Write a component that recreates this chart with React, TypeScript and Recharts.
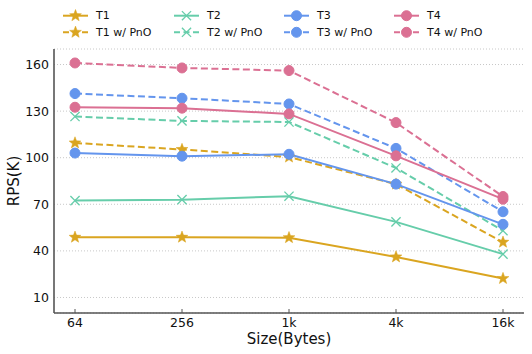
import React from 'react';
import { LineChart, Line, XAxis, YAxis, CartesianGrid } from 'recharts';

const sizes = ['64', '256', '1k', '4k', '16k'];
const t1 = [48.8, 48.8, 48.5, 36.1, 22.2];
const t1PnO = [109.5, 105.3, 100.4, 83.0, 45.6];
const t2 = [72.4, 73.0, 75.2, 58.7, 37.9];
const t2PnO = [126.5, 123.7, 123.0, 93.4, 53.0];
const t3 = [103.0, 101.0, 102.2, 83.0, 57.1];
const t3PnO = [141.3, 138.3, 134.6, 106.0, 65.2];
const t4 = [132.5, 131.9, 128.2, 101.2, 73.3];
const t4PnO = [161.0, 157.8, 156.1, 122.6, 75.0];
const yTicks = [10, 40, 70, 100, 130, 160];

const GOLD = '#DAA520';
const GREEN = '#66CDAA';
const BLUE = '#6495ED';
const PINK = '#DB7093';

type Marker = 'star' | 'x' | 'circle';

const seriesDefs: { key: string; name: string; values: number[]; color: string; marker: Marker; dashed: boolean }[] = [
  { key: 't1', name: 'T1', values: t1, color: GOLD, marker: 'star', dashed: false },
  { key: 't1p', name: 'T1 w/ PnO', values: t1PnO, color: GOLD, marker: 'star', dashed: true },
  { key: 't2', name: 'T2', values: t2, color: GREEN, marker: 'x', dashed: false },
  { key: 't2p', name: 'T2 w/ PnO', values: t2PnO, color: GREEN, marker: 'x', dashed: true },
  { key: 't3', name: 'T3', values: t3, color: BLUE, marker: 'circle', dashed: false },
  { key: 't3p', name: 'T3 w/ PnO', values: t3PnO, color: BLUE, marker: 'circle', dashed: true },
  { key: 't4', name: 'T4', values: t4, color: PINK, marker: 'circle', dashed: false },
  { key: 't4p', name: 'T4 w/ PnO', values: t4PnO, color: PINK, marker: 'circle', dashed: true },
];

const data = sizes.map((s, i) => {
  const row: Record<string, number | string> = { size: s };
  seriesDefs.forEach((d) => {
    row[d.key] = d.values[i];
  });
  return row;
});

function starPath(cx: number, cy: number, R: number, r: number) {
  let p = '';
  for (let i = 0; i < 10; i++) {
    const rad = i % 2 === 0 ? R : r;
    const a = -Math.PI / 2 + (i * Math.PI) / 5;
    p += (i === 0 ? 'M' : 'L') + (cx + rad * Math.cos(a)).toFixed(2) + ',' + (cy + rad * Math.sin(a)).toFixed(2);
  }
  return p + 'Z';
}

function MarkerShape({ cx, cy, marker, color }: { cx: number; cy: number; marker: Marker; color: string }) {
  if (cx == null || cy == null) return null;
  if (marker === 'circle') return <circle cx={cx} cy={cy} r={5} fill={color} stroke={color} strokeWidth={1} />;
  if (marker === 'star') return <path d={starPath(cx, cy, 6.2, 2.6)} fill={color} stroke={color} strokeWidth={0.5} />;
  const s = 4.6;
  return (
    <g stroke={color} strokeWidth={1.3} fill="none">
      <line x1={cx - s} y1={cy - s} x2={cx + s} y2={cy + s} />
      <line x1={cx - s} y1={cy + s} x2={cx + s} y2={cy - s} />
    </g>
  );
}

const legendCols = [63, 174, 284, 394];
const legendRows = [15.7, 32.3];

function LegendOverlay() {
  return (
    <svg width={532} height={45} style={{ position: 'absolute', left: 0, top: 0, pointerEvents: 'none' }}>
      {seriesDefs.map((d, i) => {
        const col = Math.floor(i / 2);
        const row = i % 2;
        const x = legendCols[col];
        const y = legendRows[row];
        return (
          <g key={d.key}>
            <line x1={x} y1={y} x2={x + 25} y2={y} stroke={d.color} strokeWidth={2} strokeDasharray={d.dashed ? '6 3.5' : undefined} />
            <MarkerShape cx={x + 12.5} cy={y} marker={d.marker} color={d.color} />
            <text x={x + 33} y={y} dominantBaseline="central" fontSize={11} fontFamily="DejaVu Sans" fill="#111">
              {d.name}
            </text>
          </g>
        );
      })}
    </svg>
  );
}

export default function App() {
  return (
    <div style={{ position: 'absolute', left: 0, top: 0, width: 532, height: 354, background: '#fff' }}>
      <LineChart width={532} height={354} data={data} margin={{ top: 49, right: 8, bottom: 0, left: 10 }}>
        <CartesianGrid horizontal vertical={false} stroke="#c8c8c8" strokeDasharray="1 2" strokeWidth={1} />
        <XAxis
          dataKey="size"
          height={41}
          padding={{ left: 21, right: 21 }}
          axisLine={{ stroke: '#555', strokeWidth: 1.6 }}
          tickLine={{ stroke: '#555' }}
          tickSize={-4}
          tickMargin={9}
          tick={{ fontSize: 12.5, fill: '#111', fontFamily: 'DejaVu Sans' }}
          label={(props: any) => {
            const vb = props.viewBox || {};
            const cx = (vb.x ?? 54) + (vb.width ?? 470) / 2;
            return (
              <text x={cx} y={339} textAnchor="middle" dominantBaseline="central" fontSize={15} fontFamily="DejaVu Sans" fill="#111">
                Size(Bytes)
              </text>
            );
          }}
        />
        <XAxis xAxisId="top" dataKey="size" orientation="top" height={0} tick={false} tickLine={false} axisLine={{ stroke: '#555', strokeWidth: 1.6 }} padding={{ left: 21, right: 21 }} />
        <YAxis
          width={44}
          domain={[0, 170]}
          ticks={yTicks}
          tickLine={false}
          tickSize={0}
          tickMargin={5}
          axisLine={{ stroke: '#555', strokeWidth: 1.6 }}
          tick={{ fontSize: 12.5, fill: '#111', fontFamily: 'DejaVu Sans' }}
          label={(props: any) => {
            const vb = props.viewBox || {};
            const cy = (vb.y ?? 49) + (vb.height ?? 264) / 2;
            return (
              <text x={14} y={cy} textAnchor="middle" dominantBaseline="central" fontSize={15} fontFamily="DejaVu Sans" fill="#111" transform={`rotate(-90 14 ${cy})`}>
                RPS(K)
              </text>
            );
          }}
        />
        <YAxis yAxisId="right" orientation="right" width={0} domain={[0, 170]} tick={false} tickLine={false} axisLine={{ stroke: '#555', strokeWidth: 1.6 }} />
        {seriesDefs.map((d) => (
          <Line
            key={d.key}
            dataKey={d.key}
            name={d.name}
            stroke={d.color}
            strokeWidth={2}
            strokeDasharray={d.dashed ? '7 3.5' : undefined}
            isAnimationActive={false}
            dot={(p: any) => <MarkerShape key={`${d.key}-${p.index}`} cx={p.cx} cy={p.cy} marker={d.marker} color={d.color} />}
            activeDot={false}
          />
        ))}
      </LineChart>
      <LegendOverlay />
    </div>
  );
}
